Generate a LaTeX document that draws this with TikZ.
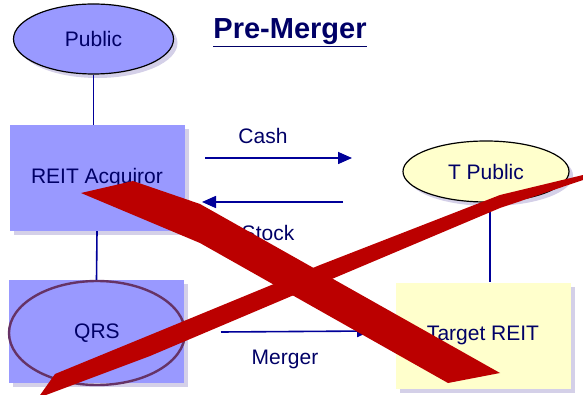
\documentclass[tikz,border=0pt]{standalone}
\usepackage{fontspec}
\setmainfont{Liberation Sans}
\usetikzlibrary{arrows.meta}
\usetikzlibrary{shapes.geometric}
\usetikzlibrary{shadows}
\definecolor{lav}{HTML}{9999FF}
\definecolor{cream}{HTML}{FFFFCC}
\definecolor{navy}{HTML}{000066}
\definecolor{wire}{HTML}{000099}
\definecolor{plum}{HTML}{663366}
\definecolor{xred}{HTML}{BB0000}
\definecolor{shade}{HTML}{B8B0D8}
\tikzset{
      txt/.style={text=navy, font=\fontsize{21}{25}\selectfont},
      entity/.style={txt, rectangle, fill=lav, inner sep=0, minimum width=175pt, minimum height=106pt,
            drop shadow={shadow xshift=4pt, shadow yshift=-4pt, fill=shade, opacity=.6}},
      crowd/.style={txt, ellipse, draw=black, line width=1.2, fill=lav, inner sep=0,
            drop shadow={shadow xshift=4pt, shadow yshift=-4pt, fill=shade, opacity=.6}},
      link/.style={draw=wire, line width=1.6},
      flow/.style={link, -{Triangle[length=14pt,width=12pt]}},
      cross/.style={fill=xred, draw=none},
}

\begin{document}
\begin{tikzpicture}[x=1pt, y=-1pt]
        \useasboundingbox (0,0) rectangle (583,395);

        \node[text=navy, font=\fontsize{29}{33}\selectfont\bfseries] (title) at (290,33) {\underline{Pre-Merger}};

        \node[crowd, minimum width=160pt, minimum height=70pt] (public) at (93.5,39) {Public};
        \node[entity] (acq) at (97,178) {REIT Acquiror};
        \node[entity, minimum height=103pt] (qrs) at (96.5,331.5) {};
        \node[txt, ellipse, draw=plum, line width=2.4, minimum width=176pt, minimum height=104pt] (qrsring) at (97,333) {QRS};

        \node[crowd, fill=cream, minimum width=166pt, minimum height=61pt] (tpublic) at (486,171.5) {T Public};
        \node[entity, fill=cream] (target) at (483,335.5) {Target REIT};

        \draw[link] (public.south) -- (public.south |- acq.north);
        \draw[link] (acq.south) -- (qrs.north);
        \draw[link] (tpublic.south -| 490,0) -- (target.north -| 490,0);

        \coordinate (cashA) at (205,158);
        \coordinate (cashB) at (352,158);
        \coordinate (stockA) at (343,202);
        \coordinate (stockB) at (202,202);
        \coordinate (mergeA) at (221,332);
        \coordinate (mergeB) at (371,331);

        \draw[flow] (cashA) -- (cashB);
        \draw[flow] (stockA) -- (stockB);
        \draw[flow] (mergeA) -- (mergeB);

        \node[txt] (cash) at (263,136) {Cash};
        \node[txt] (stock) at (268,233) {Stock};
        \node[txt] (merger) at (285,359) {Merger};

        \fill[cross] (81,193) -- (133,181) -- (200,204) -- (500,373) -- (448,383) -- (200,243) -- cycle;
        \fill[cross] (38,398) -- (55,374) -- (150,335) -- (320,265) -- (500,195) -- (583,175)
              -- (583,180) -- (500,208) -- (320,284) -- (150,356) -- cycle;

\end{tikzpicture}
\end{document}
